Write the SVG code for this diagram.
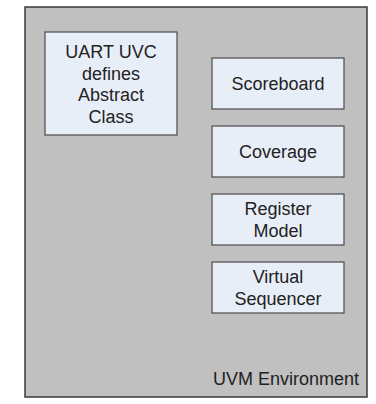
<svg xmlns="http://www.w3.org/2000/svg" width="376" height="404" viewBox="0 0 376 404">
<style>
.env{fill:#c0c0c0;stroke:#3a3a3a;stroke-width:1.5}
.box{fill:#e8eef8;stroke:#555;stroke-width:1.3}
text{font-family:"Liberation Sans",Arial,sans-serif;font-size:18px;fill:#222;text-anchor:middle}
</style>
<rect width="376" height="404" fill="#fff"/>
<g id="env">
<rect class="env" x="25" y="7" width="342" height="390"/>
<text x="359" y="385" style="text-anchor:end">UVM Environment</text>
</g>
<g id="uart">
<rect class="box" x="45" y="32" width="132" height="103"/>
<text x="111" y="58">UART UVC</text>
<text x="111" y="79.5">defines</text>
<text x="111" y="101">Abstract</text>
<text x="111" y="122.5">Class</text>
</g>
<g id="scoreboard">
<rect class="box" x="212" y="58" width="132" height="51"/>
<text x="278" y="90">Scoreboard</text>
</g>
<g id="coverage">
<rect class="box" x="212" y="126" width="132" height="51"/>
<text x="278" y="158">Coverage</text>
</g>
<g id="regmodel">
<rect class="box" x="212" y="194" width="132" height="51"/>
<text x="278" y="215">Register</text>
<text x="278" y="236.5">Model</text>
</g>
<g id="vseq">
<rect class="box" x="212" y="262" width="132" height="51"/>
<text x="278" y="283">Virtual</text>
<text x="278" y="304.5">Sequencer</text>
</g>
<g id="connectors"></g>
</svg>
